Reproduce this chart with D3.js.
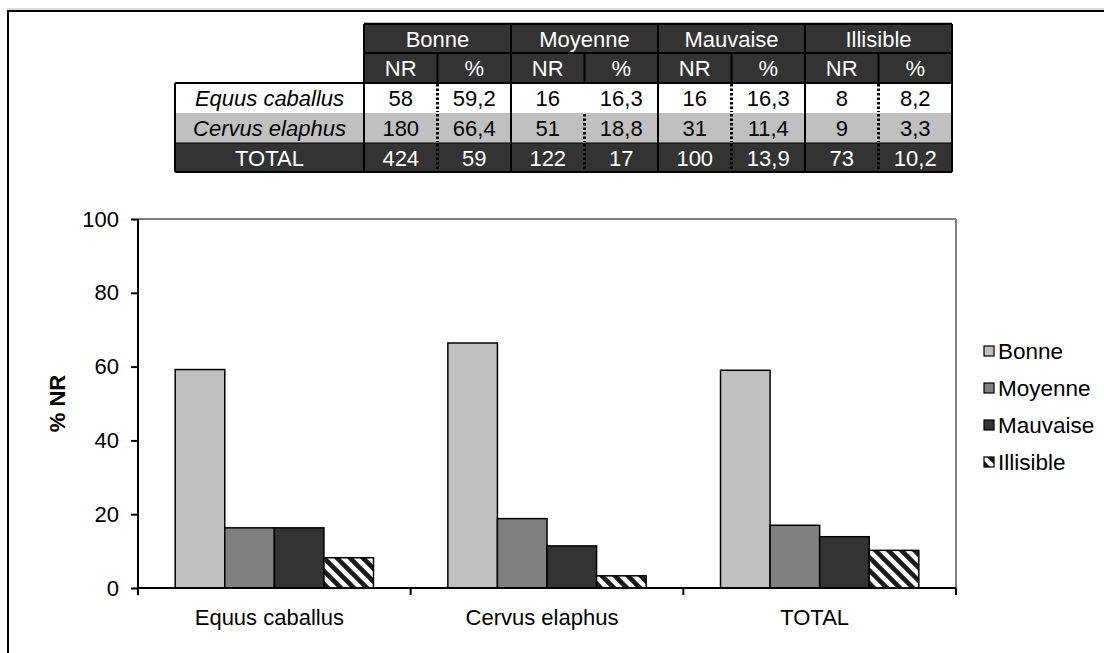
<!DOCTYPE html>
<html><head><meta charset="utf-8">
<script src="https://cdn.jsdelivr.net/npm/d3@7"></script>
<style>
html,body{margin:0;padding:0;background:#fff;}
svg text{font-family:"Liberation Sans",Arial,sans-serif;}
</style></head>
<body>
<svg id="chart" width="1104" height="653"></svg>
<script>
const groups = ["Bonne", "Moyenne", "Mauvaise", "Illisible"];
const categories = ["Equus caballus", "Cervus elaphus", "TOTAL"];
const nrEquus = [58, 16, 16, 8];
const pctEquus = [59.2, 16.3, 16.3, 8.2];
const nrCervus = [180, 51, 31, 9];
const pctCervus = [66.4, 18.8, 11.4, 3.3];
const nrTotal = [424, 122, 100, 73];
const pctTotal = [59, 17, 13.9, 10.2];
const yTicks = [0, 20, 40, 60, 80, 100];
const subHeaders = ["NR", "%"];

const svg = d3.select("#chart");
const fmt = v => String(v).replace(".", ",");

// pattern
const defs = svg.append("defs");
const P = 13;
const pat = defs.append("pattern").attr("id", "hatch").attr("patternUnits", "userSpaceOnUse")
  .attr("width", P).attr("height", P);
pat.append("rect").attr("width", P).attr("height", P).attr("fill", "#fff");
pat.append("path").attr("d", `M-4,-4 L${P + 4},${P + 4} M-4,${P - 4} L4,${P + 4} M${P - 4},-4 L${P + 4},4`)
  .attr("stroke", "#1a1a1a").attr("stroke-width", 4.6);

const fills = {"Bonne": "#c0c0c0", "Moyenne": "#808080", "Mauvaise": "#333333", "Illisible": "url(#hatch)"};

// outer frame
svg.append("line").attr("x1", 7).attr("x2", 1110).attr("y1", 9).attr("y2", 9).attr("stroke", "#bbb").attr("stroke-width", 1);
svg.append("rect").attr("x", 8).attr("y", 11).attr("width", 1120).attr("height", 700)
  .attr("fill", "none").attr("stroke", "#000").attr("stroke-width", 2);

// ---- table ----
const tLeft = 175, tGroupX = 364, colW = 73.5;
const rowY = [24, 53, 83, 113, 143, 172];
const tbl = svg.append("g");
const tableRows = [
  {label: categories[0], nr: nrEquus, pct: pctEquus, bg: "#ffffff", fg: "#000", italic: true},
  {label: categories[1], nr: nrCervus, pct: pctCervus, bg: "#c0c0c0", fg: "#000", italic: true},
  {label: categories[2], nr: nrTotal, pct: pctTotal, bg: "#333333", fg: "#fff", italic: false}
];
const tRight = tGroupX + colW * 8;
svg.append("line").attr("x1", tGroupX).attr("x2", tRight).attr("y1", rowY[0] - 1.5).attr("y2", rowY[0] - 1.5).attr("stroke", "#bbb");
tbl.append("rect").attr("x", tGroupX).attr("y", rowY[0]).attr("width", tRight - tGroupX).attr("height", rowY[2] - rowY[0]).attr("fill", "#333333");
tableRows.forEach((r, i) => {
  tbl.append("rect").attr("x", tLeft).attr("y", rowY[i + 2]).attr("width", tRight - tLeft).attr("height", rowY[i + 3] - rowY[i + 2]).attr("fill", r.bg);
});
const fs = 22;
groups.forEach((g, gi) => {
  const x0 = tGroupX + gi * 2 * colW;
  tbl.append("text").attr("x", x0 + colW).attr("y", (rowY[0] + rowY[1]) / 2 + 8).attr("text-anchor", "middle")
    .attr("font-size", fs).attr("fill", "#fff").text(g);
  subHeaders.forEach((s, si) => {
    tbl.append("text").attr("x", x0 + colW * si + colW / 2).attr("y", (rowY[1] + rowY[2]) / 2 + 8).attr("text-anchor", "middle")
      .attr("font-size", fs).attr("fill", "#fff").text(s);
  });
});
tableRows.forEach((r, i) => {
  const cy = (rowY[i + 2] + rowY[i + 3]) / 2 + 8;
  tbl.append("text").attr("x", (tLeft + tGroupX) / 2).attr("y", cy).attr("text-anchor", "middle")
    .attr("font-size", fs).attr("font-style", r.italic ? "italic" : "normal").attr("fill", r.fg).text(r.label);
  groups.forEach((g, gi) => {
    const x0 = tGroupX + gi * 2 * colW;
    tbl.append("text").attr("x", x0 + colW / 2).attr("y", cy).attr("text-anchor", "middle")
      .attr("font-size", fs).attr("fill", r.fg).text(fmt(r.nr[gi]));
    tbl.append("text").attr("x", x0 + colW * 1.5).attr("y", cy).attr("text-anchor", "middle")
      .attr("font-size", fs).attr("fill", r.fg).text(fmt(r.pct[gi]));
  });
});
const L = (x1, y1, x2, y2, w, dash) => {
  const l = tbl.append("line").attr("x1", x1).attr("y1", y1).attr("x2", x2).attr("y2", y2)
    .attr("stroke", "#000").attr("stroke-width", w || 2);
  if (dash) l.attr("stroke-dasharray", dash).attr("stroke-width", 3);
  return l;
};
L(tGroupX, rowY[0], tRight, rowY[0]);
L(tGroupX, rowY[1], tRight, rowY[1]);
L(tLeft, rowY[2], tRight, rowY[2]);
L(tLeft, rowY[5], tRight, rowY[5]);
L(tLeft, rowY[4], tRight, rowY[4], 1);
L(tLeft, rowY[2], tLeft, rowY[5]);
L(tRight, rowY[0], tRight, rowY[5]);
for (let gi = 0; gi < 4; gi++) {
  const x0 = tGroupX + gi * 2 * colW;
  L(x0, rowY[0], x0, rowY[5]);
  L(x0 + colW, rowY[1], x0 + colW, rowY[2]);
  tableRows.forEach((r, i) => {
    if (i === 0 && gi === 1) return;
    L(x0 + colW, rowY[i + 2] + 1, x0 + colW, rowY[i + 3] - 1, 3, "2.5,2");
  });
}

// ---- chart ----
const pl = 138, pr = 956, pt = 219, pb = 588;
const x0s = d3.scaleBand().domain(categories).range([pl, pr]).paddingInner(0).paddingOuter(0);
// Excel gap width 150%: bar = band/5.5, 0.75 bar of gap on each side
const barW = x0s.bandwidth() / 5.5;
const x1s = d3.scaleBand().domain(groups).range([barW * 0.75, barW * 4.75]).padding(0);
const y = d3.scaleLinear().domain([0, 100]).range([pb, pt]);

svg.append("line").attr("x1", pl).attr("x2", pr).attr("y1", pt).attr("y2", pt).attr("stroke", "#808080").attr("stroke-width", 2);
svg.append("line").attr("x1", pr).attr("x2", pr).attr("y1", pt).attr("y2", pb).attr("stroke", "#808080").attr("stroke-width", 2);

const seriesVals = [pctEquus, pctCervus, pctTotal];
const bars = svg.append("g");
categories.forEach((c, ci) => {
  groups.forEach((g, gi) => {
    const v = seriesVals[ci][gi];
    bars.append("rect").attr("x", x0s(c) + x1s(g)).attr("y", y(v)).attr("width", x1s.bandwidth()).attr("height", y(0) - y(v))
      .attr("fill", fills[g]).attr("stroke", "#000").attr("stroke-width", 1.5);
  });
});

// y axis
const yAxis = svg.append("g").attr("transform", `translate(${pl},0)`)
  .call(d3.axisLeft(y).tickValues(yTicks).tickSize(7).tickPadding(12));
yAxis.select(".domain").attr("stroke", "#000").attr("stroke-width", 2).attr("d", `M0,${pt}V${pb}`);
yAxis.selectAll(".tick line").attr("stroke", "#000").attr("stroke-width", 2);
yAxis.selectAll(".tick text").attr("font-size", 22).attr("fill", "#000").attr("font-family", "Liberation Sans, Arial, sans-serif");

// x axis
const xAxisG = svg.append("g").attr("transform", `translate(0,${pb})`);
xAxisG.append("line").attr("x1", pl).attr("x2", pr).attr("stroke", "#000").attr("stroke-width", 2);
const boundaries = categories.map(c => x0s(c)).concat([pr]);
boundaries.forEach(b => xAxisG.append("line").attr("x1", b).attr("x2", b).attr("y1", 0).attr("y2", 7).attr("stroke", "#000").attr("stroke-width", 2));
categories.forEach(c => {
  xAxisG.append("text").attr("x", x0s(c) + x0s.bandwidth() / 2 - 5).attr("y", 37).attr("text-anchor", "middle")
    .attr("font-size", 22).attr("fill", "#000").text(c);
});

// y title
svg.append("text").attr("transform", `translate(65,${(pt + pb) / 2}) rotate(-90)`).attr("text-anchor", "middle")
  .attr("font-size", 22).attr("font-weight", "bold").text("% NR");

// legend
const lg = svg.append("g");
groups.forEach((g, i) => {
  const cy = 351 + i * 37;
  lg.append("rect").attr("x", 984).attr("y", cy - 5).attr("width", 10).attr("height", 10)
    .attr("fill", fills[g]).attr("stroke", "#000").attr("stroke-width", 1.2);
  lg.append("text").attr("x", 998).attr("y", cy + 8).attr("font-size", 22.5).attr("fill", "#000").text(g);
});
</script>
</body></html>
